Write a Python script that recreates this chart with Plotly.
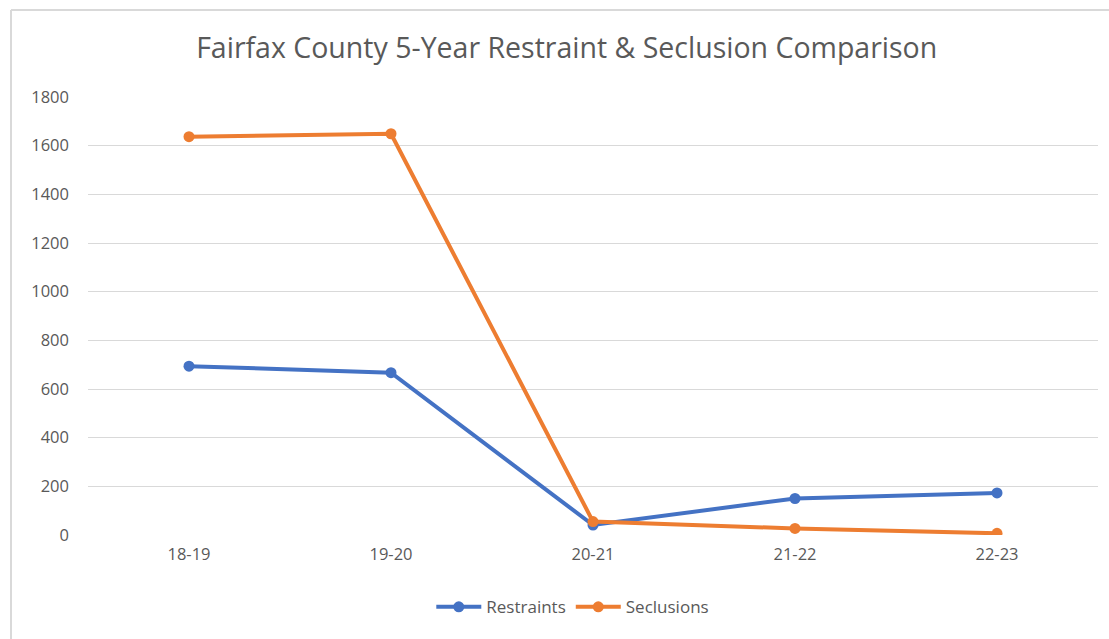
import plotly.graph_objects as go

categories = ["18-19", "19-20", "20-21", "21-22", "22-23"]
restraints = [694, 667, 41, 150, 173]
seclusions = [1637, 1649, 55, 27, 7]
y_ticks = [0, 200, 400, 600, 800, 1000, 1200, 1400, 1600, 1800]

BLUE = "#4472C4"
ORANGE = "#ED7D31"
GRAY = "#595959"
FONT = "Open Sans"

fig = go.Figure()
fig.add_trace(go.Scatter(x=categories, y=restraints, name="Restraints", mode="lines+markers",
                         line=dict(color=BLUE, width=4), marker=dict(size=11, color=BLUE)))
fig.add_trace(go.Scatter(x=categories, y=seclusions, name="Seclusions", mode="lines+markers",
                         line=dict(color=ORANGE, width=4), marker=dict(size=11, color=ORANGE)))

fig.update_layout(
    width=1109, height=639,
    margin=dict(l=88, r=11, t=97, b=104),
    paper_bgcolor="white", plot_bgcolor="white",
    font=dict(family=FONT, color=GRAY, size=16),
    title=dict(text="Fairfax County 5-Year Restraint & Seclusion Comparison",
               x=0.511, xanchor="center", y=0.925, yanchor="middle",
               font=dict(family=FONT, size=28.5, color=GRAY)),
    showlegend=True,
    legend=dict(orientation="h", x=0.48, xanchor="center", y=-0.165, yanchor="middle",
                font=dict(size=17, color=GRAY), itemwidth=45),
    xaxis=dict(type="category", showgrid=False, zeroline=False, showline=False,
               ticks="", tickfont=dict(size=16.5, color=GRAY), ticklabelstandoff=7,
               range=[-0.5, 4.5]),
    yaxis=dict(range=[0, 1800], tickvals=y_ticks, showgrid=True, gridcolor="#d9d9d9",
               gridwidth=1, zeroline=False, showline=False, ticks="",
               tickfont=dict(size=16.5, color=GRAY), ticklabelstandoff=18),
)

# outer chart frame (light gray)
fig.add_shape(type="line", xref="paper", yref="paper", x0=(11-88)/1010, x1=(1109-88)/1010,
              y0=(535-10)/438, y1=(535-10)/438, line=dict(color="#d9d9d9", width=2))
fig.add_shape(type="line", xref="paper", yref="paper", x0=(11-88)/1010, x1=(11-88)/1010,
              y0=(535-10)/438, y1=(535-639)/438, line=dict(color="#d9d9d9", width=2))

fig.write_html("out.html")
